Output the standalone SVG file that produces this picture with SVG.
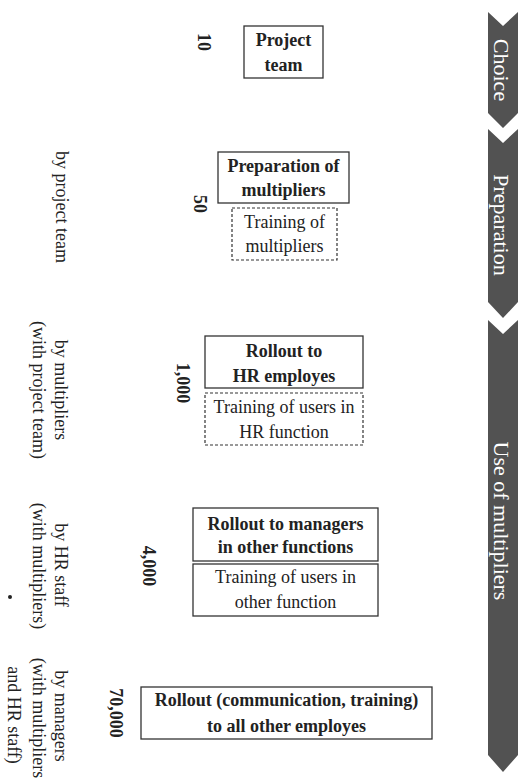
<svg xmlns="http://www.w3.org/2000/svg" width="525" height="780" viewBox="0 0 525 780">
<style>
  text{font-family:'Liberation Serif','DejaVu Serif','Times New Roman',serif}
  .box{fill:#fff;stroke:#333;stroke-width:1.3}
  .dash{fill:#fff;stroke:#333;stroke-width:1.2;stroke-dasharray:3 2}
  .b{font-size:18px;font-weight:bold;fill:#222;text-anchor:middle}
  .r{font-size:18px;fill:#222;text-anchor:middle}
  .num{font-size:18px;font-weight:bold;fill:#222;text-anchor:middle}
  .phase{fill:#525252}
  .pt{font-size:22px;fill:#fff;text-anchor:middle}
</style>
<rect width="525" height="780" fill="#fff"/>
<g id="phases" font-family="Liberation Serif, serif">
  <g id="phase-choice">
    <path class="phase" d="M488,12 L503,26 L518,12 L518,113 L503,128 L488,113 Z"/>
    <text class="pt" x="494" y="70" transform="rotate(90 494 70)">Choice</text>
  </g>
  <g id="phase-preparation">
    <path class="phase" d="M488,129 L503,143 L518,129 L518,302 L503,318 L488,302 Z"/>
    <text class="pt" x="494" y="225" transform="rotate(90 494 225)">Preparation</text>
  </g>
  <g id="phase-use">
    <path class="phase" d="M488,320 L503,334 L518,320 L518,755 L503,772 L488,755 Z"/>
    <text class="pt" x="494" y="521" transform="rotate(90 494 521)">Use of multipliers</text>
  </g>
</g>
<g id="connectors"></g>
<g id="node-project-team">
  <rect class="box" x="244" y="26" width="79" height="52"/>
  <text class="b" x="283.5" y="46">Project</text>
  <text class="b" x="283.5" y="71">team</text>
</g>
<g id="node-preparation">
  <rect class="box" x="218" y="152" width="131" height="51"/>
  <text class="b" x="283.5" y="172">Preparation of</text>
  <text class="b" x="283.5" y="196">multipliers</text>
</g>
<g id="node-training-multipliers">
  <rect class="dash" x="232" y="208" width="105" height="52"/>
  <text class="r" x="284.5" y="228">Training of</text>
  <text class="r" x="284.5" y="252">multipliers</text>
</g>
<g id="node-rollout-hr">
  <rect class="box" x="205" y="336" width="158" height="52"/>
  <text class="b" x="284" y="357">Rollout to</text>
  <text class="b" x="284" y="382">HR employes</text>
</g>
<g id="node-training-hr">
  <rect class="dash" x="205" y="393" width="158" height="52"/>
  <text class="r" x="284" y="413">Training of users in</text>
  <text class="r" x="284" y="438">HR function</text>
</g>
<g id="node-rollout-managers">
  <rect class="box" x="193" y="508" width="185" height="53"/>
  <text class="b" x="285.5" y="530">Rollout to managers</text>
  <text class="b" x="285.5" y="553">in other functions</text>
</g>
<g id="node-training-other">
  <rect class="box" x="193" y="564" width="185" height="52"/>
  <text class="r" x="285.5" y="583">Training of users in</text>
  <text class="r" x="285.5" y="608">other function</text>
</g>
<g id="node-rollout-all">
  <rect class="box" x="141" y="687" width="291" height="52"/>
  <text class="b" x="286.5" y="706">Rollout (communication, training)</text>
  <text class="b" x="286.5" y="732">to all other employes</text>
</g>
<g id="numbers">
  <text class="num" x="198" y="42" transform="rotate(90 198 42)">10</text>
  <text class="num" x="194" y="204" transform="rotate(90 194 204)">50</text>
  <text class="num" x="177" y="383" transform="rotate(90 177 383)">1,000</text>
  <text class="num" x="143" y="566" transform="rotate(90 143 566)">4,000</text>
  <text class="num" x="110" y="713" transform="rotate(90 110 713)">70,000</text>
</g>
<g id="labels">
  <text class="r" x="56" y="207" transform="rotate(90 56 207)">by project team</text>
  <text class="r" x="55" y="390" transform="rotate(90 55 390)">by multipliers</text>
  <text class="r" x="33" y="390" transform="rotate(90 33 390)">(with project team)</text>
  <text class="r" x="55" y="565" transform="rotate(90 55 565)">by HR staff</text>
  <text class="r" x="33" y="566" transform="rotate(90 33 566)">(with multipliers)</text>
  <text class="r" x="55" y="716" transform="rotate(90 55 716)">by managers</text>
  <text class="r" x="33" y="718" transform="rotate(90 33 718)">(with multipliers</text>
  <text class="r" x="8" y="715" transform="rotate(90 8 715)">and HR staff)</text>
  <circle cx="10" cy="597" r="2" fill="#222"/>
</g>
</svg>
